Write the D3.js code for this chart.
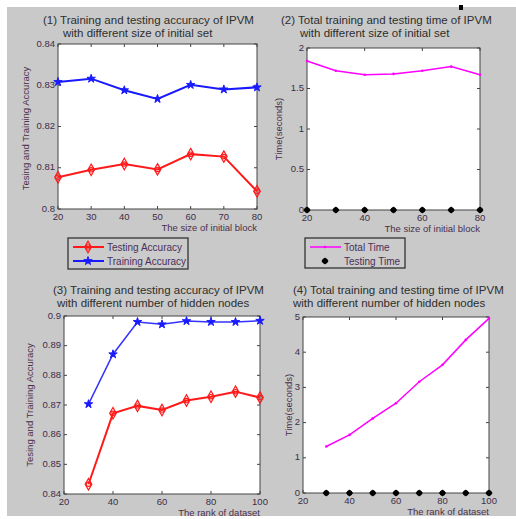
<!DOCTYPE html>
<html>
<head>
<meta charset="UTF-8">
<title>IPVM accuracy and time</title>
<style>
  body { margin: 0; background: #fff; }
  svg { display: block; font-family: "Liberation Sans", Arial, sans-serif; }
  .tick-label { fill: #3d2d48; font-size: 9.5px; }
  .title { fill: #2e2e2e; font-size: 11.5px; }
  .axis-label { fill: #4a2f4a; font-size: 9.5px; }
  .legend-text { fill: #4a2f5a; font-size: 10px; }
</style>
</head>
<body>
<svg id="chart" width="516" height="519"></svg>
<script src="https://d3js.org/d3.v7.min.js"></script>
<script>
// --- data ---
const blockSizes = [20, 30, 40, 50, 60, 70, 80];
const testAcc1 = [0.8077, 0.8095, 0.8109, 0.8096, 0.8133, 0.8127, 0.8043];
const trainAcc1 = [0.8308, 0.8316, 0.8288, 0.8267, 0.8301, 0.8290, 0.8295];
const totalTime2 = [1.84, 1.72, 1.67, 1.68, 1.72, 1.77, 1.67];
const testTime2 = [0, 0, 0, 0, 0, 0, 0];

const ranks = [30, 40, 50, 60, 70, 80, 90, 100];
const testAcc3 = [0.8433, 0.8672, 0.8697, 0.8683, 0.8715, 0.8728, 0.8745, 0.8725];
const trainAcc3 = [0.8703, 0.8871, 0.8980, 0.8972, 0.8983, 0.8980, 0.8980, 0.8984];
const totalTime4 = [1.32, 1.65, 2.12, 2.55, 3.16, 3.64, 4.35, 4.96];
const testTime4 = [0, 0, 0, 0, 0, 0, 0, 0];

const xTicks1 = [20, 30, 40, 50, 60, 70, 80];
const yTicks1 = [0.8, 0.81, 0.82, 0.83, 0.84];
const xTicks2 = [20, 40, 60, 80];
const yTicks2 = [0, 0.5, 1, 1.5, 2];
const xTicks3 = [20, 40, 60, 80, 100];
const yTicks3 = [0.84, 0.85, 0.86, 0.87, 0.88, 0.89, 0.9];
const yTicks4 = [0, 1, 2, 3, 4, 5];

const svg = d3.select("#chart");

// gray figure background
svg.append("rect").attr("x", 7).attr("y", 7).attr("width", 509).attr("height", 509).attr("fill", "#c9c9c9");
svg.append("rect").attr("x", 459).attr("y", 5).attr("width", 4).attr("height", 5).attr("fill", "#000");

const fmt = d => String(+d.toFixed(2));

// red open diamond with a ring, blue filled star, black filled blob
function drawMarker(g, kind, x, y) {
  if (kind === "diamond") {
    g.append("path").attr("transform", `translate(${x},${y})`)
      .attr("d", d3.symbol(d3.symbolDiamond, 38)())
      .attr("fill", "none").attr("stroke", "#ff1a1a").attr("stroke-width", 1.2);
    g.append("circle").attr("cx", x).attr("cy", y).attr("r", 2.2)
      .attr("fill", "none").attr("stroke", "#ff1a1a").attr("stroke-width", 1.1);
  } else if (kind === "star") {
    g.append("path").attr("transform", `translate(${x},${y})`)
      .attr("d", d3.symbol(d3.symbolStar, 22)())
      .attr("fill", "#1a1aff").attr("stroke", "#1a1aff").attr("stroke-width", 1);
  } else if (kind === "black") {
    g.append("path").attr("transform", `translate(${x},${y}) rotate(45)`)
      .attr("d", d3.symbol(d3.symbolSquare, 26)())
      .attr("fill", "#000");
    g.append("circle").attr("cx", x).attr("cy", y).attr("r", 2.8).attr("fill", "#000");
  } else if (kind === "dot") {
    g.append("circle").attr("cx", x).attr("cy", y).attr("r", 1.3).attr("fill", "#ff00ff");
  }
}

function panel(opt) {
  const x = d3.scaleLinear().domain(opt.xDomain).range([opt.left, opt.right]);
  const y = d3.scaleLinear().domain(opt.yDomain).range([opt.bottom, opt.top]);
  const g = svg.append("g");

  g.append("rect").attr("x", opt.left).attr("y", opt.top)
    .attr("width", opt.right - opt.left).attr("height", opt.bottom - opt.top)
    .attr("fill", "#fff").attr("stroke", "#444").attr("stroke-width", 1);

  // inward ticks on all four sides
  opt.xTicks.forEach(t => {
    g.append("line").attr("x1", x(t)).attr("x2", x(t)).attr("y1", opt.bottom).attr("y2", opt.bottom - 3).attr("stroke", "#444");
    g.append("line").attr("x1", x(t)).attr("x2", x(t)).attr("y1", opt.top).attr("y2", opt.top + 3).attr("stroke", "#444");
    g.append("text").attr("class", "tick-label").attr("x", x(t)).attr("y", opt.bottom + 11)
      .attr("text-anchor", "middle").text(fmt(t));
  });
  opt.yTicks.forEach(t => {
    g.append("line").attr("x1", opt.left).attr("x2", opt.left + 3).attr("y1", y(t)).attr("y2", y(t)).attr("stroke", "#444");
    g.append("line").attr("x1", opt.right).attr("x2", opt.right - 3).attr("y1", y(t)).attr("y2", y(t)).attr("stroke", "#444");
    g.append("text").attr("class", "tick-label").attr("x", opt.left - 3).attr("y", y(t) + 2.5)
      .attr("text-anchor", "end").text(fmt(t));
  });

  opt.series.forEach(s => {
    const line = d3.line().x((d, i) => x(s.xs[i])).y(d => y(d));
    if (s.line) {
      g.append("path").datum(s.values).attr("d", line)
        .attr("fill", "none").attr("stroke", s.color).attr("stroke-width", s.width);
    }
    s.values.forEach((v, i) => drawMarker(g, s.marker, x(s.xs[i]), y(v)));
  });

  // titles and labels
  g.append("text").attr("class", "title").attr("x", opt.titleX).attr("y", opt.titleY).text(opt.title[0]);
  g.append("text").attr("class", "title").attr("x", opt.titleX2).attr("y", opt.titleY + 13).text(opt.title[1]);
  g.append("text").attr("class", "axis-label").attr("x", opt.right).attr("y", opt.bottom + 22)
    .attr("text-anchor", "end").text(opt.xLabel);
  g.append("text").attr("class", "axis-label")
    .attr("transform", `translate(${opt.yLabelX},${(opt.top + opt.bottom) / 2 + opt.yLabelShift}) rotate(-90)`)
    .attr("text-anchor", "middle").text(opt.yLabel);
}

panel({
  left: 58, right: 257, top: 44, bottom: 209,
  xDomain: [20, 80], yDomain: [0.8, 0.84], xTicks: xTicks1, yTicks: yTicks1,
  title: ["(1)  Training and testing accuracy of IPVM", "with different size of initial set"],
  titleX: 43, titleX2: 63, titleY: 24,
  xLabel: "The size of initial block", yLabel: "Tesing and Training Accuracy", yLabelX: 29, yLabelShift: 2,
  series: [
    { xs: blockSizes, values: testAcc1, color: "#ff1a1a", width: 2, marker: "diamond", line: true },
    { xs: blockSizes, values: trainAcc1, color: "#1a1aff", width: 2, marker: "star", line: true }
  ]
});

panel({
  left: 307, right: 480, top: 48, bottom: 210,
  xDomain: [20, 80], yDomain: [0, 2], xTicks: xTicks2, yTicks: yTicks2,
  title: ["(2)  Total training and testing time of IPVM", "with different size of initial set"],
  titleX: 281, titleX2: 300, titleY: 24,
  xLabel: "The size of initial block", yLabel: "Time(seconds)", yLabelX: 282, yLabelShift: 0,
  series: [
    { xs: blockSizes, values: totalTime2, color: "#ff00ff", width: 1.5, marker: "dot", line: true },
    { xs: blockSizes, values: testTime2, color: "#000", width: 0, marker: "black", line: false }
  ]
});

panel({
  left: 64, right: 260, top: 316, bottom: 494,
  xDomain: [20, 100], yDomain: [0.84, 0.9], xTicks: xTicks3, yTicks: yTicks3,
  title: ["(3)  Training and testing accuracy of IPVM", "with different number of hidden nodes"],
  titleX: 53, titleX2: 57, titleY: 294,
  xLabel: "The rank of dataset", yLabel: "Tesing and Training Accuracy", yLabelX: 33, yLabelShift: 0,
  series: [
    { xs: ranks, values: testAcc3, color: "#ff1a1a", width: 2, marker: "diamond", line: true },
    { xs: ranks, values: trainAcc3, color: "#3333ff", width: 1.5, marker: "star", line: true }
  ]
});

panel({
  left: 303, right: 489, top: 317, bottom: 493,
  xDomain: [20, 100], yDomain: [0, 5], xTicks: xTicks3, yTicks: yTicks4,
  title: ["(4)  Total training and testing time of IPVM", "with different number of hidden nodes"],
  titleX: 293, titleX2: 293, titleY: 294,
  xLabel: "The rank of dataset", yLabel: "Time(seconds)", yLabelX: 292, yLabelShift: 0,
  series: [
    { xs: ranks, values: totalTime4, color: "#ff00ff", width: 1.5, marker: "dot", line: true },
    { xs: ranks, values: testTime4, color: "#000", width: 0, marker: "black", line: false }
  ]
});

// legends
function legend(x0, y0, w, h, items) {
  const g = svg.append("g");
  g.append("rect").attr("x", x0).attr("y", y0).attr("width", w).attr("height", h)
    .attr("fill", "#cbcbcb").attr("stroke", "#333").attr("stroke-width", 1.3);
  items.forEach((it, i) => {
    const cy = y0 + 9 + i * 14;
    if (it.line) {
      g.append("line").attr("x1", x0 + 5).attr("x2", x0 + 36).attr("y1", cy).attr("y2", cy)
        .attr("stroke", it.color).attr("stroke-width", it.width);
    }
    drawMarker(g, it.marker, x0 + 20, cy);
    g.append("text").attr("class", "legend-text").attr("x", x0 + 39).attr("y", cy + 3.5).text(it.label);
  });
}

legend(68, 238, 120, 31, [
  { label: "Testing Accuracy", color: "#ff1a1a", width: 2, marker: "diamond", line: true },
  { label: "Training Accuracy", color: "#1a1aff", width: 2, marker: "star", line: true }
]);
legend(305, 238, 100, 30, [
  { label: "Total Time", color: "#ff00ff", width: 1.5, marker: "dot", line: true },
  { label: "Testing Time", color: "#000", width: 0, marker: "black", line: false }
]);
</script>
</body>
</html>
